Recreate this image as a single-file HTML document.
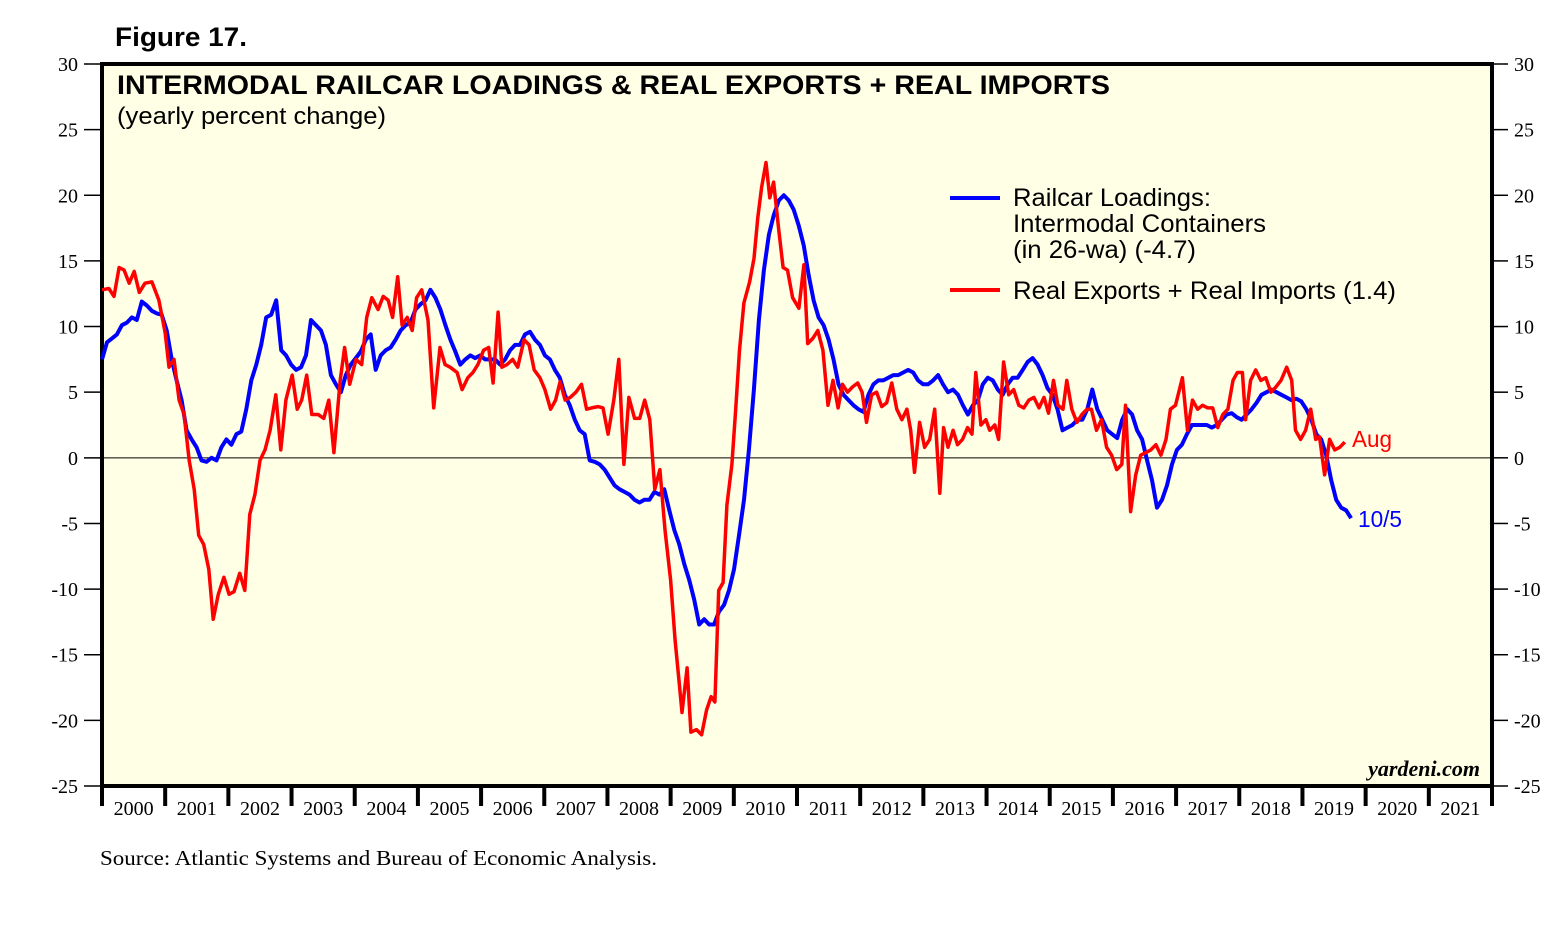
<!DOCTYPE html>
<html><head><meta charset="utf-8"><style>
html,body{margin:0;padding:0;background:#fff;}
svg{display:block;}
</style></head><body>
<svg id="chart" width="1568" height="931" xmlns="http://www.w3.org/2000/svg">
<text x="115" y="46" font-family="Liberation Sans, sans-serif" font-weight="bold" font-size="27" textLength="132" lengthAdjust="spacingAndGlyphs">Figure 17.</text>
<rect x="102" y="64" width="1390" height="722" fill="#ffffe6" stroke="#000" stroke-width="4"/>
<g id="grid"></g>
<g id="series"></g>
<text x="117" y="94" font-family="Liberation Sans, sans-serif" font-weight="bold" font-size="27" textLength="993" lengthAdjust="spacingAndGlyphs">INTERMODAL RAILCAR LOADINGS &amp; REAL EXPORTS + REAL IMPORTS</text>
<text x="117" y="124" font-family="Liberation Sans, sans-serif" font-size="24" textLength="269" lengthAdjust="spacingAndGlyphs">(yearly percent change)</text>
<g font-family="Liberation Sans, sans-serif" font-size="25">
<line x1="950" y1="198" x2="1000" y2="198" stroke="#0000ff" stroke-width="4"/>
<text x="1013" y="206" textLength="198" lengthAdjust="spacingAndGlyphs">Railcar Loadings:</text>
<text x="1013" y="232" textLength="253" lengthAdjust="spacingAndGlyphs">Intermodal Containers</text>
<text x="1013" y="258" textLength="183" lengthAdjust="spacingAndGlyphs">(in 26-wa) (-4.7)</text>
<line x1="950" y1="290" x2="1000" y2="290" stroke="#ff0000" stroke-width="4"/>
<text x="1013" y="299" textLength="383" lengthAdjust="spacingAndGlyphs">Real Exports + Real Imports (1.4)</text>
</g>
<text x="1352" y="447" font-family="Liberation Sans, sans-serif" font-size="23" fill="#ff0000" textLength="40" lengthAdjust="spacingAndGlyphs">Aug</text>
<text x="1358" y="527" font-family="Liberation Sans, sans-serif" font-size="23" fill="#0000ff" textLength="44" lengthAdjust="spacingAndGlyphs">10/5</text>
<text x="1480" y="776" text-anchor="end" font-family="Liberation Serif, serif" font-weight="bold" font-style="italic" font-size="22">yardeni.com</text>
<text x="100" y="865" font-family="Liberation Serif, serif" font-size="21" textLength="557" lengthAdjust="spacingAndGlyphs">Source: Atlantic Systems and Bureau of Economic Analysis.</text>
</svg>
<script>
const yTicks = [30,25,20,15,10,5,0,-5,-10,-15,-20,-25];
const years = [2000,2001,2002,2003,2004,2005,2006,2007,2008,2009,2010,2011,2012,2013,2014,2015,2016,2017,2018,2019,2020,2021];
const tradeBaseYear = 2000;
const tradeYearOffsets = [0,.11,.19,.27,.35,.43,.51,.59,.68,.79,.90,1.00,1.06,1.14,1.22,1.30,1.38,1.46,1.53,1.61,1.69,1.76,1.84,1.93,2.01,2.09,2.18,2.26,2.34,2.42,2.50,2.58,2.66,2.75,2.83,2.91,3.01,3.09,3.16,3.24,3.32,3.42,3.51,3.59,3.67,3.77,3.84,3.92,4.02,4.11,4.19,4.27,4.37,4.45,4.53,4.60,4.68,4.75,4.83,4.91,4.98,5.06,5.16,5.25,5.35,5.43,5.51,5.62,5.70,5.79,5.87,5.95,6.04,6.12,6.19,6.27,6.33,6.41,6.50,6.58,6.68,6.76,6.84,6.93,7.01,7.10,7.18,7.25,7.33,7.41,7.50,7.59,7.67,7.75,7.85,7.93,8.01,8.10,8.18,8.26,8.34,8.43,8.51,8.59,8.67,8.75,8.83,8.91,9.00,9.07,9.13,9.18,9.26,9.32,9.41,9.49,9.57,9.64,9.70,9.76,9.83,9.89,9.97,10.03,10.09,10.16,10.25,10.32,10.38,10.44,10.51,10.57,10.63,10.71,10.78,10.85,10.93,11.03,11.11,11.17,11.25,11.33,11.41,11.49,11.57,11.65,11.72,11.80,11.88,11.96,12.03,12.10,12.18,12.26,12.34,12.42,12.50,12.58,12.66,12.74,12.80,12.86,12.94,13.02,13.10,13.18,13.26,13.32,13.39,13.47,13.54,13.62,13.70,13.77,13.83,13.91,13.99,14.05,14.13,14.19,14.27,14.35,14.43,14.51,14.59,14.67,14.75,14.83,14.91,14.98,15.06,15.13,15.21,15.27,15.35,15.43,15.51,15.59,15.66,15.74,15.82,15.90,15.98,16.06,16.14,16.20,16.28,16.36,16.44,16.52,16.60,16.68,16.76,16.84,16.91,16.99,17.10,17.18,17.26,17.34,17.42,17.50,17.58,17.66,17.74,17.82,17.90,17.97,18.05,18.10,18.18,18.26,18.34,18.42,18.50,18.58,18.66,18.75,18.83,18.89,18.97,19.05,19.13,19.21,19.27,19.35,19.43,19.51,19.59,19.67];
const tradeValues = [12.8,12.9,12.3,14.5,14.3,13.3,14.2,12.6,13.3,13.4,12.0,9.5,6.9,7.5,4.4,3.3,-0.2,-2.4,-5.9,-6.6,-8.5,-12.3,-10.4,-9.1,-10.4,-10.2,-8.8,-10.1,-4.3,-2.8,-0.2,0.6,2.1,4.8,0.6,4.4,6.3,3.7,4.4,6.3,3.3,3.3,3.0,4.4,0.4,5.9,8.4,5.6,7.5,7.1,10.7,12.2,11.3,12.3,12.0,10.7,13.8,10.1,10.7,9.7,12.2,12.8,10.5,3.8,8.4,7.1,6.9,6.5,5.2,6.1,6.5,7.1,8.2,8.4,5.7,11.1,6.9,7.1,7.5,6.9,9.0,8.6,6.7,6.1,5.2,3.7,4.4,5.8,4.4,4.6,5.0,5.6,3.7,3.8,3.9,3.8,1.8,4.4,7.5,-0.5,4.6,3.0,3.0,4.4,2.9,-2.4,-0.9,-5.5,-9.3,-13.9,-16.9,-19.4,-16.0,-20.9,-20.7,-21.1,-19.2,-18.2,-18.6,-10.1,-9.5,-3.6,-0.5,3.7,8.2,11.8,13.4,15.2,18.3,20.6,22.5,19.8,21.0,17.4,14.5,14.3,12.2,11.4,14.7,8.7,9.1,9.7,8.2,4.0,5.9,3.8,5.6,5.0,5.4,5.7,5.0,2.7,4.8,5.0,3.9,4.2,5.7,3.7,2.9,3.7,2.1,-1.1,2.7,0.8,1.4,3.7,-2.7,2.3,0.8,2.1,1.0,1.4,2.3,1.8,6.5,2.5,2.9,2.1,2.5,1.4,7.3,4.8,5.2,4.0,3.8,4.4,4.6,3.8,4.6,3.4,5.9,4.0,3.7,5.9,3.7,2.7,3.3,3.7,3.7,2.1,2.9,0.8,0.2,-0.9,-0.5,4.0,-4.1,-1.3,0.2,0.4,0.6,1.0,0.2,1.4,3.7,4.0,6.1,2.1,4.4,3.7,4.0,3.8,3.8,2.3,3.3,3.7,5.9,6.5,6.5,2.9,5.9,6.7,5.9,6.1,5.0,5.4,5.9,6.9,5.9,2.1,1.4,2.1,3.7,1.4,1.6,-1.3,1.4,0.6,0.8,1.2];
const railStart = 2000.0, railEnd = 2019.77;
const railValues = [7.5,8.8,9.1,9.4,10.1,10.3,10.7,10.5,11.9,11.6,11.2,11.0,10.9,9.7,7.5,5.9,4.4,2.1,1.4,0.8,-0.2,-0.3,0,-0.2,0.8,1.4,1.0,1.8,2.0,3.7,5.9,7.1,8.6,10.7,10.9,12.0,8.2,7.8,7.1,6.7,6.9,7.8,10.5,10.1,9.7,8.6,6.3,5.6,5.0,6.3,7.1,7.6,8.1,9.0,9.4,6.7,7.8,8.2,8.4,9.0,9.7,10.1,10.3,11.3,11.7,12.0,12.8,12.2,11.3,10.1,9.0,8.1,7.1,7.5,7.8,7.6,7.8,7.5,7.5,7.5,7.1,7.5,8.2,8.6,8.6,9.4,9.6,9.0,8.6,7.8,7.5,6.7,6.1,4.8,4.0,2.9,2.1,1.8,-0.2,-0.3,-0.5,-0.9,-1.5,-2.1,-2.4,-2.6,-2.8,-3.2,-3.4,-3.2,-3.2,-2.6,-2.8,-2.4,-4.0,-5.5,-6.6,-8.1,-9.3,-10.8,-12.7,-12.3,-12.7,-12.7,-11.7,-11.2,-10.1,-8.5,-5.9,-3.2,0.6,5.2,10.5,14.3,17.0,18.5,19.6,20.0,19.6,18.9,17.7,16.2,13.9,12.0,10.7,10.1,9.0,7.5,5.6,4.8,4.4,4.0,3.7,3.5,4.8,5.6,5.9,5.9,6.1,6.3,6.3,6.5,6.7,6.5,5.9,5.6,5.6,5.9,6.3,5.6,5.0,5.2,4.8,4.0,3.3,4.0,4.4,5.6,6.1,5.9,5.2,4.8,5.6,6.1,6.1,6.7,7.3,7.6,7.1,6.3,5.3,4.8,3.7,2.1,2.3,2.5,2.9,2.9,3.7,5.2,3.7,2.9,2.1,1.8,1.5,2.9,3.7,3.3,2.1,1.4,-0.2,-1.7,-3.8,-3.2,-2.1,-0.5,0.6,1.0,1.8,2.5,2.5,2.5,2.5,2.3,2.5,2.9,3.3,3.4,3.1,2.9,3.3,3.7,4.2,4.8,5.0,5.2,5.0,4.8,4.6,4.4,4.5,4.3,3.7,2.9,1.8,1.4,0.2,-1.7,-3.2,-3.8,-4.0,-4.6];

const NS = 'http://www.w3.org/2000/svg';
const X0 = 102, X1 = 1492, Y0 = 64, Y1 = 786;
const xMin = 2000, xMax = 2022, yMin = -25, yMax = 30;
function xs(t){ return X0 + (t - xMin) / (xMax - xMin) * (X1 - X0); }
function ys(v){ return Y1 - (v - yMin) / (yMax - yMin) * (Y1 - Y0); }
function mk(tag, attrs, parent){ const e = document.createElementNS(NS, tag); for (const k in attrs) e.setAttribute(k, attrs[k]); parent.appendChild(e); return e; }
const grid = document.getElementById('grid');
const series = document.getElementById('series');

yTicks.forEach(v => {
  const y = ys(v);
  const t1 = mk('line', {x1: 84, x2: X0, y1: y, y2: y, stroke: '#000', 'stroke-width': 1.5}, grid);
  
  
  const t2 = mk('line', {x1: X1, x2: 1508, y1: y, y2: y, stroke: '#000', 'stroke-width': 1.5}, grid);
  
  
  const l = mk('text', {x: 78, y: y + 7, 'text-anchor': 'end', 'font-family': 'Liberation Serif, serif', 'font-size': 20}, grid);
  l.textContent = v;
  
  
  const r = mk('text', {x: 1514, y: y + 7, 'font-family': 'Liberation Serif, serif', 'font-size': 20}, grid);
  r.textContent = v;
  
  
});
const zl = mk('line', {x1: X0, x2: X1, y1: ys(0), y2: ys(0), stroke: '#000', 'stroke-width': 1}, grid);



years.concat([2022]).forEach(yr => {
  const x = xs(yr);
  const tk = mk('line', {x1: x, x2: x, y1: Y1, y2: 806, stroke: '#000', 'stroke-width': 4}, grid);
  
  
});
years.forEach(yr => {
  const t = mk('text', {x: xs(yr + 0.5), y: 815, 'text-anchor': 'middle', 'font-family': 'Liberation Serif, serif', 'font-size': 20}, grid);
  t.textContent = yr;
  
  
});

function drawPath(dates, vals, color, w, name){
  const n = Math.min(dates.length, vals.length);
  let d = '';
  for (let i = 0; i < n; i++) d += (i ? 'L' : 'M') + xs(dates[i]).toFixed(1) + ',' + ys(vals[i]).toFixed(1) + ' ';
  const p = mk('path', {d: d, fill: 'none', stroke: color, 'stroke-width': w, 'stroke-linejoin': 'round'}, series);
  
  
}
const railDates = railValues.map((v, i) => railStart + i * (railEnd - railStart) / (railValues.length - 1));
const tradeDates = tradeYearOffsets.map(o => tradeBaseYear + o);
drawPath(railDates, railValues, '#0000ff', 4, 'railcar-loadings-line');
drawPath(tradeDates, tradeValues, '#ff0000', 3.5, 'real-trade-line');
</script>
</body></html>
